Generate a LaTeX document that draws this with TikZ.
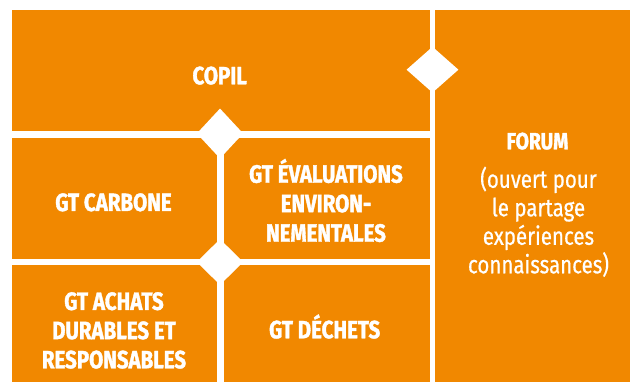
\documentclass[tikz,border=0pt]{standalone}
\usepackage{fontspec}
\setmainfont{Fira Sans}[FakeStretch=0.82,UprightFeatures={FakeBold=0.6},BoldFeatures={FakeBold=1.4}]
\usetikzlibrary{shapes.geometric}
\definecolor{panelorange}{RGB}{241,136,0}
\begin{document}
\begin{tikzpicture}[x=1pt,y=-1pt,
  panel/.style={fill=panelorange,draw=none},
  joint/.style={diamond,fill=white,draw=none,inner sep=0pt},
  lbl/.style={text=white,font=\fontsize{25}{29.3}\selectfont\bfseries,align=center,anchor=base,inner sep=0pt},
  sublbl/.style={text=white,font=\fontsize{25}{28.5}\selectfont,align=center,anchor=base,inner sep=0pt}]
  \useasboundingbox (0,0) rectangle (630,382);
  \fill[white] (0,0) rectangle (630,382);
  % panels
  \path[panel] (12,10) rectangle (430,131);
  \path[panel] (12,138) rectangle (216.5,259);
  \path[panel] (223.5,138) rectangle (430,259);
  \path[panel] (12,265) rectangle (216.5,382);
  \path[panel] (223.5,265) rectangle (430,382);
  \path[panel] (435,10) rectangle (630,382);
  % white joints where the gaps meet
  \node[joint,minimum width=52pt,minimum height=46pt] (jforum) at (432.5,69.7) {};
  \node[joint,minimum width=46.5pt,minimum height=50pt] (jtop) at (220,133.5) {};
  \node[joint,minimum width=46.5pt,minimum height=46pt] (jbottom) at (220,262) {};
  % labels (multi-line labels sit on the baseline of their last line)
  \node[lbl] (copil) at (219.7,84.3) {COPIL};
  \node[lbl] (carbone) at (113.5,211) {GT CARBONE};
  \node[lbl,font=\fontsize{25}{29.5}\selectfont\bfseries] (evaluations) at (326,241.7) {GT ÉVALUATIONS\\ENVIRON-\\NEMENTALES};
  \node[lbl,font=\fontsize{25}{29.2}\selectfont\bfseries] (achats) at (114,368.3) {GT ACHATS\\DURABLES ET\\RESPONSABLES};
  \node[lbl] (dechets) at (324.7,338.3) {GT DÉCHETS};
  \node[lbl,font=\fontsize{23.5}{28}\selectfont\bfseries] (forum) at (537.5,149.3) {FORUM};
  \node[sublbl] (forumtext) at (538.5,273.3) {(ouvert pour\\le partage\\expériences\\connaissances)};
\end{tikzpicture}
\end{document}
